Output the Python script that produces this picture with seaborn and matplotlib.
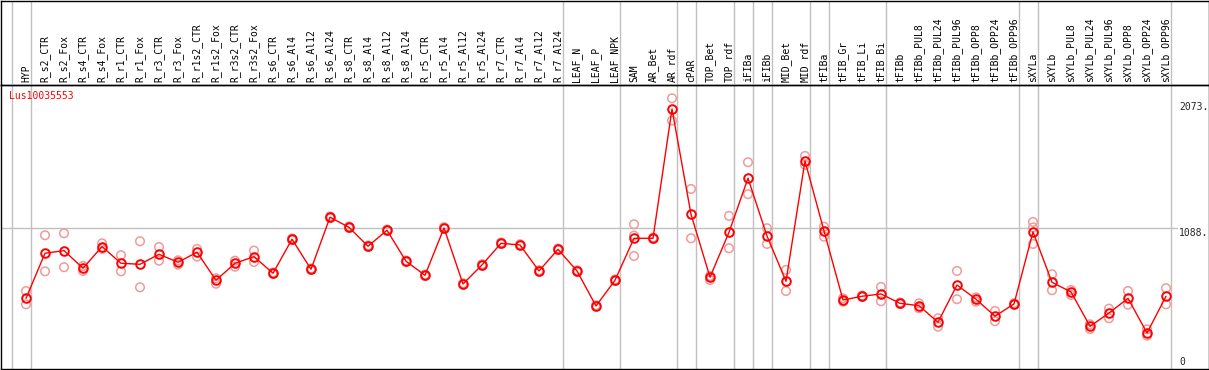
import numpy as np
import pandas as pd
import matplotlib
matplotlib.use("Agg")
import matplotlib.pyplot as plt
import seaborn as sns

# ---------------- data ----------------
gene_name = "Lus10035553"

categories = [
    "HYP", "R_s2_CTR", "R_s2_Fox", "R_s4_CTR", "R_s4_Fox", "R_r1_CTR", "R_r1_Fox",
    "R_r3_CTR", "R_r3_Fox", "R_r1s2_CTR", "R_r1s2_Fox", "R_r3s2_CTR", "R_r3s2_Fox",
    "R_s6_CTR", "R_s6_Al4", "R_s6_Al12", "R_s6_Al24", "R_s8_CTR", "R_s8_Al4",
    "R_s8_Al12", "R_s8_Al24", "R_r5_CTR", "R_r5_Al4", "R_r5_Al12", "R_r5_Al24",
    "R_r7_CTR", "R_r7_Al4", "R_r7_Al12", "R_r7_Al24", "LEAF_N", "LEAF_P", "LEAF_NPK",
    "SAM", "AR_Bet", "AR_rdf", "cPAR", "TOP_Bet", "TOP_rdf", "iFIBa", "iFIBb",
    "MID_Bet", "MID_rdf", "tFIBa", "tFIB_Gr", "tFIB_Li", "tFIB_Bi", "tFIBb",
    "tFIBb_PUL8", "tFIBb_PUL24", "tFIBb_PUL96", "tFIBb_OPP8", "tFIBb_OPP24",
    "tFIBb_OPP96", "sXYLa", "sXYLb", "sXYLb_PUL8", "sXYLb_PUL24", "sXYLb_PUL96",
    "sXYLb_OPP8", "sXYLb_OPP24", "sXYLb_OPP96",
]

mean_expr = [
    536, 888, 909, 771, 940, 810, 802, 880, 818, 896, 677, 810, 862,
    732, 998, 763, 1170, 1091, 943, 1068, 826, 716, 1086, 648, 797,
    966, 953, 750, 919, 750, 476, 677,
    1005, 1005, 2016, 1193, 701, 1052, 1475, 1023, 669, 1610,
    1063, 523, 552, 570, 497, 478, 349, 640, 529, 396, 492,
    1055, 661, 586, 317, 421, 536, 265, 552,
]

replicates = [
    [593, 489], [1029, 747], [1045, 779], [789, 750], [966, 922], [873, 747],
    [982, 622], [937, 830], [833, 799], [922, 862], [693, 650], [830, 783],
    [909, 820], [738, 726], [1004, 992], [769, 757], [1176, 1164], [1097, 1085],
    [949, 937], [1074, 1062], [832, 820], [722, 710], [1092, 1080], [654, 642],
    [803, 791], [972, 960], [959, 947], [756, 744], [925, 913], [756, 744],
    [482, 470], [683, 671],
    [1115, 1026, 867], [1011, 999], [2100, 1925], [1391, 1005], [711, 679],
    [1180, 927], [1600, 1350], [1084, 961], [758, 593], [1649, 1579],
    [1096, 1018], [536, 510], [558, 546], [625, 513], [503, 491], [497, 458],
    [380, 314], [750, 529], [544, 510], [437, 357], [498, 486],
    [1133, 1090, 961], [724, 599], [601, 562], [333, 296], [455, 380],
    [593, 486], [294, 244], [615, 489],
]

group_ends = [-1, 0, 28, 31, 34, 35, 37, 38, 39, 41, 42, 45, 52, 53, 60]

ytick_values = [0, 1088, 2073]
ytick_labels = ["0", "1088.", "2073."]

# ---------------- frames ----------------
idx = np.arange(len(categories))
mean_df = pd.DataFrame({"idx": idx, "expr": mean_expr})
rep_df = pd.DataFrame(
    [(i, v) for i, reps in enumerate(replicates) for v in reps],
    columns=["idx", "expr"],
)

# ---------------- figure / layout ----------------
sns.set_theme(style="white")
plt.rcParams["font.family"] = ["DejaVu Sans Mono", "DejaVu Sans"]

W, H = 1209, 370
fig = plt.figure(figsize=(W / 100, H / 100), dpi=100)
fig.patch.set_facecolor("white")

header_px = 85      # y of separator line (from top)
bottom_px = 369     # y of bottom frame
left_px, right_px = 0.5, 1208.5

ax = fig.add_axes([left_px / W, (H - bottom_px) / H,
                   (right_px - left_px) / W, (bottom_px - header_px) / H])
hax = fig.add_axes([left_px / W, (H - header_px) / H,
                    (right_px - left_px) / W, (header_px - 0.5) / H], sharex=ax)
hax.patch.set_visible(False)

# pixel -> data mapping: x_px = 26 + 19*i ; y: 1088 at 227.7 px, 2073 at 101.7 px
x0_px, dx_px = 26.0, 19.0
ax.set_xlim((left_px - x0_px) / dx_px, (right_px - x0_px) / dx_px)
y_slope = (227.7 - 101.7) / (2073 - 1088)
y_zero_px = 227.7 + 1088 * y_slope
ax.set_ylim((y_zero_px - bottom_px) / y_slope, (y_zero_px - header_px) / y_slope)

grid_col = "#C0C0C0"
for g in group_ends:
    for a in (ax, hax):
        a.axvline(g + 0.24, color=grid_col, lw=1.0, zorder=0)

ax.axhline(1088, xmin=0, xmax=(1177 - left_px) / (right_px - left_px),
           color=grid_col, lw=1.0, zorder=0)

# replicates
sns.scatterplot(data=rep_df, x="idx", y="expr", ax=ax, marker="o", s=38,
                facecolor="none", edgecolor="#F09A9A", linewidth=1.1,
                zorder=2, legend=False)
# means
sns.lineplot(data=mean_df, x="idx", y="expr", ax=ax, color="#FF0000", lw=1.0,
             marker="o", markersize=6.2, markerfacecolor="none",
             markeredgecolor="#FF0000", markeredgewidth=1.4, zorder=3,
             legend=False)

# x tick labels (top, rotated into the header)
ax.xaxis.tick_top()
ax.set_xticks(idx)
ax.set_xticklabels(categories, rotation=90, fontsize=7,
                   fontfamily="DejaVu Sans Mono", color="black")
ax.tick_params(axis="x", length=0, pad=2)
ax.set_xlabel("")

# y tick labels inside the right margin
ax.yaxis.tick_right()
ax.set_yticks(ytick_values)
ax.set_yticklabels(ytick_labels, fontsize=7, fontfamily="DejaVu Sans Mono")
ax.tick_params(axis="y", length=0, pad=-29.5 * 0.72)
for lbl, v in zip(ax.get_yticklabels(), ytick_values):
    lbl.set_va("bottom" if v == 0 else "top")
    lbl.set_ha("left")
ax.set_ylabel("")

ax.text(9.0 / (right_px - left_px), 1 - (91 - header_px) / (bottom_px - header_px),
        gene_name, transform=ax.transAxes, color="#FF0000", fontsize=7,
        fontfamily="DejaVu Sans Mono", ha="left", va="top")

for a in (ax, hax):
    for s in a.spines.values():
        s.set_color("black")
        s.set_linewidth(1.0)
        s.set_visible(True)
    a.grid(False)
hax.tick_params(left=False, bottom=False, top=False, right=False,
                labelleft=False, labelbottom=False, labeltop=False, labelright=False)

fig.savefig("out.png", dpi=100)
